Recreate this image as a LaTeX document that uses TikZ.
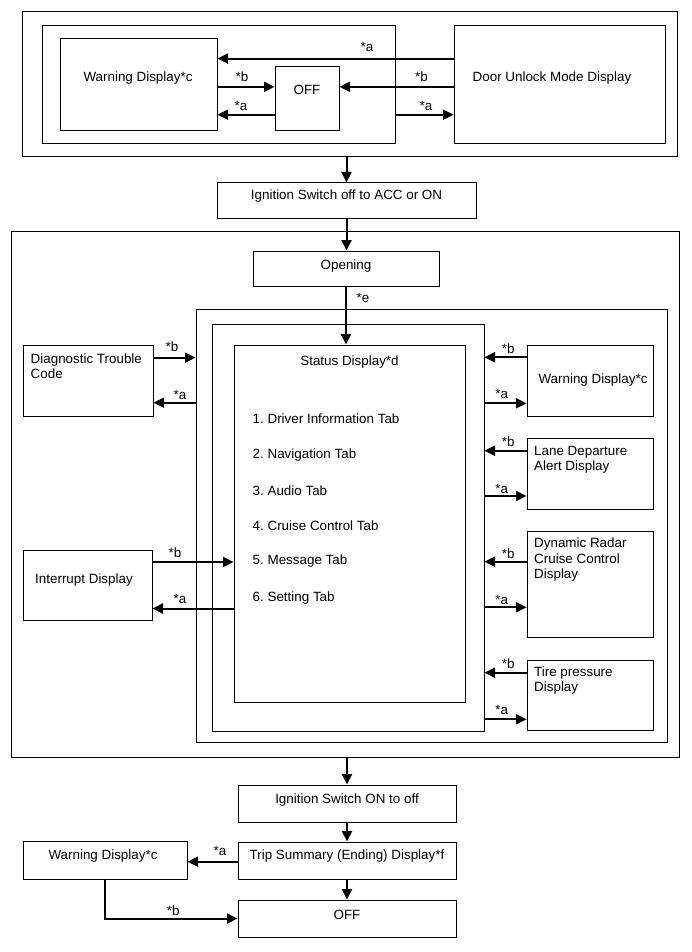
\documentclass[tikz,border=0pt]{standalone}
\usepackage{fontspec}
\setmainfont{Liberation Sans}
\usetikzlibrary{arrows.meta,fit}
\frenchspacing
\newcommand\drawbox[5]{\node[box, fit={(#2,#3) (#4,#5)}] (#1) {};}
\begin{document}
\begin{tikzpicture}[x=1pt,y=-1pt,
  box/.style={draw, line width=1pt, inner sep=0pt},
  txt/.style={inner sep=0pt, text height=9.5pt, text depth=0pt, font=\fontsize{13.4}{16}\selectfont},
  ltxt/.style={txt, anchor=west},
  arr/.style={line width=2pt, -{Triangle[length=10.5pt,width=10pt]}}]
\fill[white] (0,0) rectangle (691,952);
\useasboundingbox (0,0) rectangle (691,952);

% ---------- top section ----------
\drawbox{topouter}{22}{12}{677}{157}
\drawbox{topinner}{42}{26}{395}{144}
\drawbox{warnA}{60}{39}{217}{131}
\drawbox{offA}{275}{67}{339}{131}
\drawbox{door}{454}{26}{665}{144}
\node[txt] (twarnA) at (138,77) {Warning Display*c};
\node[txt] (toffA) at (307,90) {OFF};
\node[txt] (tdoor) at (552,77) {Door Unlock Mode Display};
\coordinate (yA1) at (0,58.6);
\coordinate (yA2) at (0,86.8);
\coordinate (yA3) at (0,114.7);
\draw[arr] (door.west |- yA1) -- (warnA.east |- yA1);
\draw[arr] (door.west |- yA2) -- (offA.east |- yA2);
\draw[arr] (warnA.east |- yA2) -- (offA.west |- yA2);
\draw[arr] (offA.west |- yA3) -- (warnA.east |- yA3);
\draw[arr] (topinner.east |- yA3) -- (door.west |- yA3);
\node[txt] (la1) at (367,47) {*a};
\node[txt] (lb1) at (242,77) {*b};
\node[txt] (lb2) at (421.5,77) {*b};
\node[txt] (la2) at (241,105.5) {*a};
\node[txt] (la3) at (426,105.5) {*a};

% ---------- ignition ----------
\drawbox{ignA}{217}{183}{476}{218}
\node[txt] (tignA) at (346.5,194.5) {Ignition Switch off to ACC or ON};
\draw[arr] (ignA.north |- topouter.south) -- (ignA.north);

% ---------- middle section ----------
\drawbox{big}{11}{231}{679}{757}
\drawbox{opening}{253}{251}{439}{286}
\node[txt] (topen) at (346,265) {Opening};
\draw[arr] (ignA.south) -- (ignA.south |- opening.north);
\drawbox{rout}{196}{309}{667}{742}
\drawbox{rin}{212}{324}{484}{731}
\drawbox{status}{234}{345}{465}{702}
\draw[arr] (opening.south) -- (opening.south |- status.north);
\node[txt] (le) at (363,298) {*e};
\node[txt] (tstatus) at (349.5,361) {Status Display*d};
\node[ltxt] (i1) at (252.5,419) {1. Driver Information Tab};
\node[ltxt] (i2) at (252.5,453.3) {2. Navigation Tab};
\node[ltxt] (i3) at (252.5,490.3) {3. Audio Tab};
\node[ltxt] (i4) at (252.5,525.7) {4. Cruise Control Tab};
\node[ltxt] (i5) at (252.5,560) {5. Message Tab};
\node[ltxt] (i6) at (252.5,596.7) {6. Setting Tab};

% left side
\drawbox{dtc}{23}{345}{153}{416}
\node[ltxt] (tdtc1) at (30.5,358.3) {Diagnostic Trouble};
\node[ltxt] (tdtc2) at (30.5,373.3) {Code};
\coordinate (yD1) at (0,357.7);
\coordinate (yD2) at (0,402.7);
\draw[arr] (dtc.east |- yD1) -- (rout.west |- yD1);
\draw[arr] (rout.west |- yD2) -- (dtc.east |- yD2);
\node[txt] (ldb) at (172,347) {*b};
\node[txt] (lda) at (180,394.3) {*a};

\drawbox{intr}{23}{550}{152}{620}
\node[txt] (tintr) at (84,579) {Interrupt Display};
\coordinate (yI1) at (0,562);
\coordinate (yI2) at (0,608.5);
\draw[arr] (intr.east |- yI1) -- (status.west |- yI1);
\draw[arr] (status.west |- yI2) -- (intr.east |- yI2);
\node[txt] (lib) at (175,552.7) {*b};
\node[txt] (lia) at (180,598.7) {*a};

% right side
\drawbox{warnB}{527}{345}{653}{416}
\node[txt] (twarnB) at (593,378.3) {Warning Display*c};
\drawbox{lane}{527}{438.3}{653}{509.3}
\node[ltxt] (tlane1) at (534,450.7) {Lane Departure};
\node[ltxt] (tlane2) at (534,465.7) {Alert Display};
\drawbox{dyn}{527}{531.7}{653}{637.3}
\node[ltxt] (tdyn1) at (534,542.7) {Dynamic Radar};
\node[ltxt] (tdyn2) at (534,558.3) {Cruise Control};
\node[ltxt] (tdyn3) at (534,574) {Display};
\drawbox{tire}{527}{660}{653}{730.7}
\node[ltxt] (ttire1) at (534,671.7) {Tire pressure};
\node[ltxt] (ttire2) at (534,686.7) {Display};

\coordinate (yW1) at (0,357.3);
\coordinate (yW2) at (0,403.3);
\coordinate (yL1) at (0,450.7);
\coordinate (yL2) at (0,496);
\coordinate (yR1) at (0,561.7);
\coordinate (yR2) at (0,607.3);
\coordinate (yT1) at (0,672.7);
\coordinate (yT2) at (0,719.3);
\draw[arr] (warnB.west |- yW1) -- (rin.east |- yW1);
\draw[arr] (rin.east |- yW2) -- (warnB.west |- yW2);
\draw[arr] (lane.west |- yL1) -- (rin.east |- yL1);
\draw[arr] (rin.east |- yL2) -- (lane.west |- yL2);
\draw[arr] (dyn.west |- yR1) -- (rin.east |- yR1);
\draw[arr] (rin.east |- yR2) -- (dyn.west |- yR2);
\draw[arr] (tire.west |- yT1) -- (rin.east |- yT1);
\draw[arr] (rin.east |- yT2) -- (tire.west |- yT2);
\node[txt] (lwb) at (508.3,348.3) {*b};
\node[txt] (lwa) at (501.7,393.3) {*a};
\node[txt] (llb) at (508.3,441.7) {*b};
\node[txt] (lla) at (501.7,488.3) {*a};
\node[txt] (lrb) at (508.3,553.3) {*b};
\node[txt] (lra) at (501.7,599.3) {*a};
\node[txt] (ltb) at (508.3,663.3) {*b};
\node[txt] (lta) at (501.7,710) {*a};

% ---------- bottom section ----------
\drawbox{ignB}{238}{785}{456}{822}
\node[txt] (tignB) at (347,798.3) {Ignition Switch ON to off};
\draw[arr] (ignB.north |- big.south) -- (ignB.north);
\drawbox{trip}{238}{842}{456}{879}
\node[txt] (ttrip) at (347,855) {Trip Summary (Ending) Display*f};
\draw[arr] (ignB.south) -- (trip.north);
\drawbox{offB}{238}{900}{456}{937}
\node[txt] (toffB) at (347,914.3) {OFF};
\draw[arr] (trip.south) -- (offB.north);
\drawbox{warnC}{23}{841}{187}{879}
\node[txt] (twarnC) at (103,855) {Warning Display*c};
\coordinate (yC) at (0,861.7);
\draw[arr] (trip.west |- yC) -- (warnC.east |- yC);
\node[txt] (lca) at (220,851) {*a};
\draw[arr] (warnC.south) |- (offB.west);
\node[txt] (lcb) at (173.3,910.7) {*b};
\end{tikzpicture}
\end{document}
